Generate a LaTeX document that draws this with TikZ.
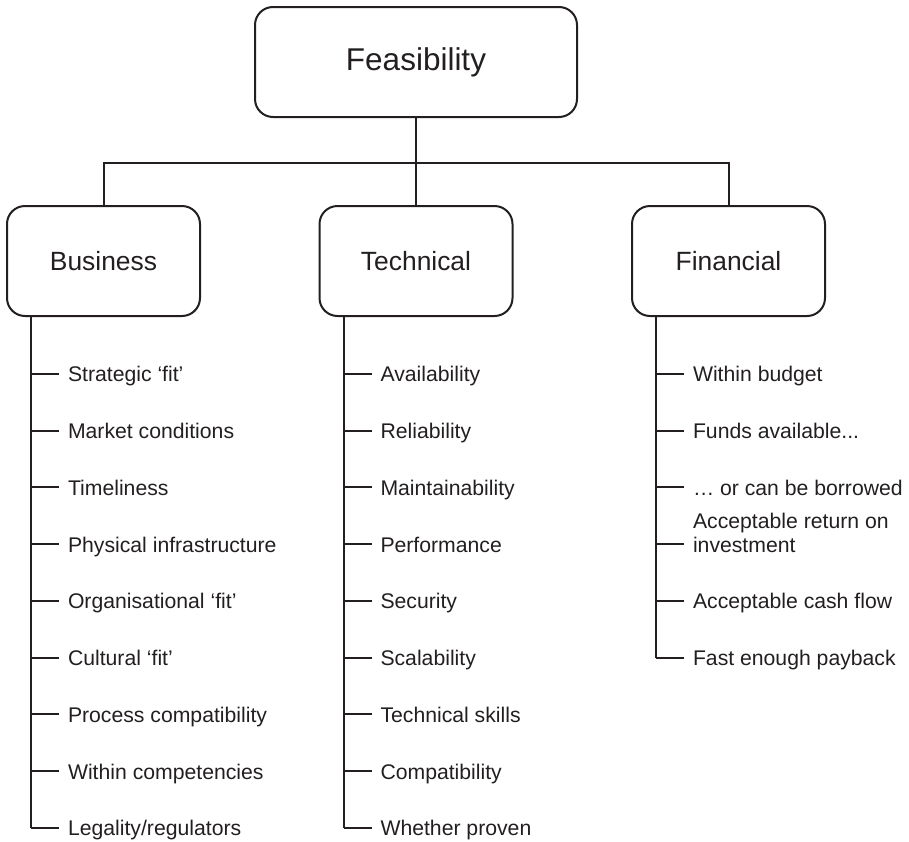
\documentclass[tikz,border=0pt]{standalone}
\usepackage{fontspec}
\setmainfont{Liberation Sans}
\usetikzlibrary{positioning, calc}
\definecolor{inkblack}{HTML}{231F20}

\begin{document}
\begin{tikzpicture}[x=1pt, y=-1pt, line width=2pt, inkblack, text=inkblack,
    topbox/.style={draw=inkblack, rounded corners=18pt, minimum width=322pt,
      minimum height=110pt, font=\fontsize{31.5}{38}\selectfont},
    catbox/.style={draw=inkblack, rounded corners=18pt, minimum width=193pt,
      minimum height=110pt, font=\fontsize{26.4}{32}\selectfont},
    itemtext/.style={anchor=west, inner sep=0pt, text height=16pt, text depth=0pt,
      align=left, font=\fontsize{21.2}{24}\selectfont}]
  \useasboundingbox (0,0) rectangle (909,841);

  % boxes
  \node[topbox] (feas) at (416,62)    {Feasibility};
  \node[catbox] (bus)  at (103.5,261) {Business};
  \node[catbox] (tech) at (416,261)   {Technical};
  \node[catbox] (fin)  at (728.5,261) {Financial};

  % tree connectors
  \coordinate (bar) at (416,163);
  \draw (feas.south) -- (tech.north);
  \draw (bus.north) |- (bar) -| (fin.north);

  % spines
  \coordinate (busspine)  at ($(bus.south west)+(25,0)$);
  \coordinate (techspine) at ($(tech.south west)+(25,0)$);
  \coordinate (finspine)  at ($(fin.south west)+(25,0)$);

  % business items
  \foreach \txt [count=\i] in {Strategic ‘fit’, Market conditions, Timeliness,
      Physical infrastructure, Organisational ‘fit’, Cultural ‘fit’,
      Process compatibility, Within competencies, Legality/regulators} {
    \coordinate (bus-t\i) at ($(busspine)+(0,56.75*\i)$);
    \node[itemtext] (bus-\i) at ($(bus-t\i)+(36,0)$) {\txt};
    \draw (bus-t\i) -- ([xshift=-8pt]bus-\i.west);
  }
  \draw (busspine) -- (bus-t9);

  % technical items
  \foreach \txt [count=\i] in {Availability, Reliability, Maintainability,
      Performance, Security, Scalability, Technical skills, Compatibility,
      Whether proven} {
    \coordinate (tech-t\i) at ($(techspine)+(0,56.75*\i)$);
    \node[itemtext] (tech-\i) at ($(tech-t\i)+(36,0)$) {\txt};
    \draw (tech-t\i) -- ([xshift=-8pt]tech-\i.west);
  }
  \draw (techspine) -- (tech-t9);

  % financial items
  \foreach \txt [count=\i] in {Within budget, Funds available.{}.{}., … or can be borrowed,
      {Acceptable return on\\investment}, Acceptable cash flow, Fast enough payback} {
    \coordinate (fin-t\i) at ($(finspine)+(0,56.75*\i)$);
    \node[itemtext] (fin-\i) at ($(fin-t\i)+(36,0)$) {\txt};
    \draw (fin-t\i) -- ([xshift=-8pt]fin-\i.west);
  }
  \draw (finspine) -- (fin-t6);
\end{tikzpicture}
\end{document}
